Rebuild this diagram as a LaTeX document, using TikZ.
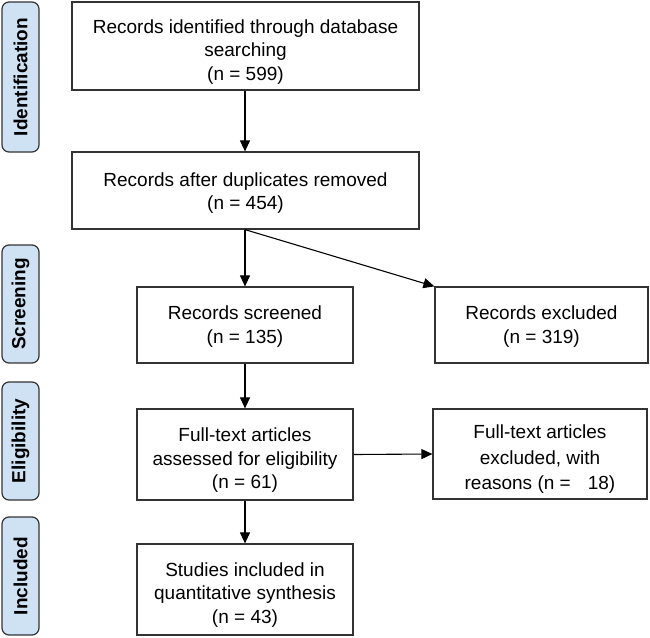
\documentclass[tikz,border=0pt]{standalone}
\usepackage{fontspec}
\setmainfont{Liberation Sans}
\usetikzlibrary{arrows.meta}
\definecolor{phaseblue}{HTML}{CFE2F3}
\definecolor{edgegray}{HTML}{333333}
\newcommand\tgap[1]{\rule{0pt}{#1}}
\begin{document}
\begin{tikzpicture}[x=1pt,y=-1pt,
  box/.style={draw=edgegray, line width=1.2pt, fill=white, align=center,
    font=\fontsize{19}{23.5}\selectfont, inner sep=0pt},
  phase/.style={draw=edgegray, line width=1.2pt, fill=phaseblue, rounded corners=7pt,
    font=\bfseries\fontsize{19}{22}\selectfont, rotate=90, inner sep=0pt,
    minimum height=37pt},
  arr/.style={-{Triangle[length=11pt,width=10pt]}, line width=1.1pt, draw=black}]
\useasboundingbox (0,0) rectangle (650,637);
% phase labels
\node[phase, minimum width=150pt] (pid) at (20.5,77) {Identification};
\node[phase, minimum width=118pt] (psc) at (20.5,304) {Screening};
\node[phase, minimum width=118pt] (pel) at (20.5,441) {Eligibility};
\node[phase, minimum width=118pt] (pin) at (20.5,576) {Included};
% boxes
\node[box, minimum width=347pt, minimum height=88pt] (b1) at (245.5,46)
  {\tgap{25pt}Records identified through database\\searching\\(n = 599)};
\node[box, minimum width=347pt, minimum height=77pt] (b2) at (245.5,190.5)
  {\tgap{19pt}Records after duplicates removed\\(n = 454)};
\node[box, minimum width=216pt, minimum height=76pt] (b3) at (245,325)
  {\tgap{17pt}Records screened\\(n = 135)};
\node[box, minimum width=213pt, minimum height=76pt] (e1) at (541.5,325)
  {\tgap{17pt}Records excluded\\(n = 319)};
\node[box, minimum width=216pt, minimum height=91pt] (b4) at (245,454.5)
  {\tgap{25pt}Full-text articles\\assessed for eligibility\\(n = 61)};
\node[box, minimum width=214pt, minimum height=90pt, font=\fontsize{19}{25.5}\selectfont] (e2) at (540,454)
  {\tgap{24pt}Full-text articles\\excluded, with\\reasons (n =\hspace{0.9em}18)};
\node[box, minimum width=216pt, minimum height=91pt] (b5) at (245,589.5)
  {\tgap{24pt}Studies included in\\quantitative synthesis\\(n = 43)};
% connectors
\draw[arr] (b1.south -| b3.north) -- (b2.north -| b3.north);
\draw[arr] (b2.south -| b3.north) -- (b3.north);
\draw[arr] (b2.south -| b3.north) -- (e1.north west);
\draw[arr] (b3.south) -- (b4.north);
\draw[arr] (b4.east) -- (e2.west);
\draw[arr] (b4.south) -- (b5.north);
\end{tikzpicture}
\end{document}
